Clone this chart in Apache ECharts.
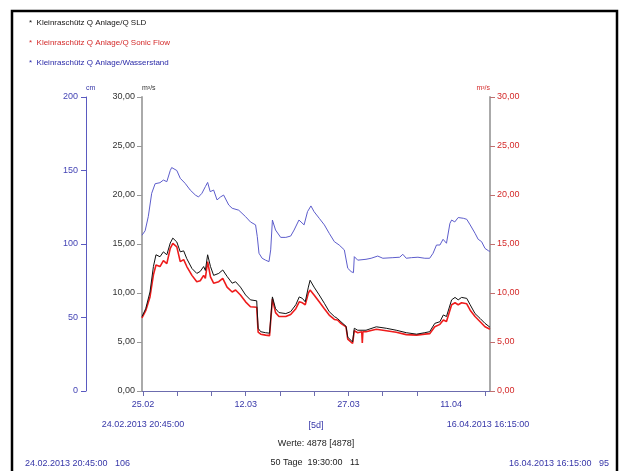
<!DOCTYPE html>
<html>
<head>
<meta charset="utf-8">
<script src="https://cdn.jsdelivr.net/npm/echarts@6/dist/echarts.min.js"></script>
<style>
html,body{margin:0;padding:0;background:#fff;}
#chart{width:621px;height:471px;}
</style>
</head>
<body>
<div id="chart"></div>
<script>
// ---------- data ----------
const seriesNames = ['Kleinraschütz Q Anlage/Q SLD', 'Kleinraschütz Q Anlage/Q Sonic Flow', 'Kleinraschütz Q Anlage/Wasserstand'];
const startUTC = Date.UTC(2013, 1, 24, 20, 45);
const endUTC = Date.UTC(2013, 3, 16, 16, 15);

// hours since start / values (m³/s)
const sldHours = [0,13,28,40,49,63,75,87,99,108,122,134,146,157,175,192,204,216,222,230,240,251,269,283,298,316,328,345,363,380,402,404,407,416,433,447,452,457,468,480,504,521,539,551,562,572,583,589,603,621,639,656,674,685,697,715,721,738,744,756,785,821,856,891,926,962,991,1008,1026,1044,1056,1067,1085,1097,1108,1120,1138,1150,1167,1185,1202,1219.5];
const sldValues = [7.6,8.4,10.1,12.7,13.9,13.7,14.2,13.9,15.1,15.6,15.2,14.2,14.3,13.5,12.5,12.0,12.2,12.7,12.3,13.9,12.7,11.8,12.0,12.35,11.7,11.0,11.15,10.6,9.8,9.3,9.2,9.1,6.4,6.05,5.95,5.9,5.9,9.6,8.4,8.0,7.9,8.1,8.8,9.6,9.45,9.1,10.6,11.3,10.6,9.8,8.95,8.1,7.6,7.4,7.07,6.6,5.5,5.0,6.4,6.2,6.2,6.55,6.4,6.2,5.95,5.8,5.95,6.05,6.9,7.07,7.76,7.6,9.3,9.55,9.3,9.55,9.45,8.8,7.9,7.4,6.9,6.5];

const sonicHours = [0,13,28,40,49,63,75,87,99,108,122,134,146,157,175,192,204,216,222,230,240,251,269,283,298,316,328,345,363,380,402,404,407,416,433,447,452,457,468,480,504,521,539,551,562,572,583,589,603,621,639,656,674,685,697,715,721,738,744,756,770,772,774,785,821,856,891,926,962,991,1008,1026,1044,1056,1067,1085,1097,1108,1120,1138,1150,1167,1185,1202,1219.5];
const sonicValues = [7.45,8.2,9.6,11.85,12.86,12.7,13.3,13.0,14.56,15.07,14.7,13.2,13.4,12.7,11.8,11.15,11.25,11.8,11.5,13.2,11.65,11.0,11.15,11.5,10.6,10.1,10.3,9.8,9.1,8.6,8.55,8.5,6.0,5.8,5.7,5.65,5.7,9.4,8.0,7.6,7.6,7.8,8.4,9.1,9.0,8.8,10.0,10.3,9.8,9.1,8.4,7.75,7.3,7.25,6.9,6.55,5.3,4.85,6.15,5.95,6.05,4.9,6.05,6.05,6.3,6.15,6.0,5.75,5.7,5.8,5.85,6.55,6.8,7.25,7.1,8.8,9.0,8.8,9.0,8.9,8.25,7.6,7.07,6.55,6.3];

// hours since start / values (cm)
const levelHours = [0,11,22,34,46,63,75,87,99,104,122,134,151,169,187,198,210,222,230,239,251,263,275,286,304,316,339,363,380,398,404,410,421,433,445,451,457,468,486,504,521,533,550,568,580,592,603,621,639,656,674,691,709,715,721,733,741,744,756,785,803,826,844,879,903,914,926,944,967,991,1008,1020,1032,1044,1055,1067,1079,1085,1096,1108,1126,1138,1150,1167,1178,1190,1202,1214,1219.5];
const levelValues = [106,109,118.6,134.5,141,141.7,143.5,142.4,150,152,150,144.7,141.3,136.7,133.3,132,134.5,139,141.9,135.6,136.7,130,132,133.3,126.5,124.3,123,118.6,115,113,105,93.7,90.3,89,88,96,116.3,109.5,104.5,104.5,105.4,109.5,116.3,113,122,125.9,122,117.5,113,107.3,101.6,99.3,96,94.8,83.5,81.2,80.5,91.4,89,89.6,90.3,91.8,90.3,90.7,91,93,90.3,90.7,91,90.3,90.3,93.7,99.3,99.3,103.2,100.5,114,116.3,115,118,117.5,116.8,113,107.3,103.2,101.6,97,95.4,95];

// x-axis ticks and labels
const tickDates = ['2013-02-25','2013-03-02','2013-03-07','2013-03-12','2013-03-17','2013-03-22','2013-03-27','2013-04-01','2013-04-06','2013-04-11','2013-04-16'];
const labelDates = ['2013-02-25','2013-03-12','2013-03-27','2013-04-11'];

const footerTexts = {
  start: '24.02.2013 20:45:00', mid: '[5d]', end: '16.04.2013 16:15:00',
  count: 'Werte: 4878 [4878]',
  statStart: '24.02.2013 20:45:00   106', statMid: '50 Tage  19:30:00   11', statEnd: '16.04.2013 16:15:00   95'
};

// ---------- build ----------
const toUTC = s => { const p = s.split('-').map(Number); return Date.UTC(p[0], p[1]-1, p[2]); };
const pairs = (hours, vals) => hours.map((h, i) => [startUTC + h * 3600000, vals[i]]);
const fmt2 = v => v.toFixed(2).replace('.', ',');

const FONT = '"Liberation Sans", Arial, sans-serif';
const BLUE_TXT = '#3636a8';
const RED_TXT = '#d42a2a';

const chart = echarts.init(document.getElementById('chart'), null, {renderer: 'canvas'});
chart.setOption({
  useUTC: true,
  animation: false,
  backgroundColor: '#fff',
  textStyle: {fontFamily: FONT},
  grid: {left: 142, right: 131, top: 97, bottom: 80, containLabel: false},
  legend: {
    orient: 'vertical', left: 24, top: 18, itemGap: 10, padding: 0,
    icon: 'rect', itemWidth: 0, itemHeight: 0,
    selectedMode: false,
    formatter: n => '*  ' + n,
    textStyle: {fontSize: 8, fontFamily: FONT, lineHeight: 10, padding: 0},
    data: [
      {name: seriesNames[0], textStyle: {color: '#111'}},
      {name: seriesNames[1], textStyle: {color: RED_TXT}},
      {name: seriesNames[2], textStyle: {color: '#2a2aa8'}}
    ]
  },
  xAxis: {
    type: 'time', min: startUTC, max: endUTC,
    axisLine: {show: true, lineStyle: {color: '#6c6cae', width: 1}},
    axisTick: {show: true, length: 5, lineStyle: {color: '#6c6cae'}, customValues: tickDates.map(toUTC)},
    axisLabel: {customValues: labelDates.map(toUTC), formatter: '{dd}.{MM}', color: BLUE_TXT, fontSize: 9, margin: 9, fontFamily: FONT},
    splitLine: {show: false}
  },
  yAxis: [
    {
      type: 'value', min: 0, max: 30, interval: 5, position: 'left',
      name: 'm³/s', nameLocation: 'end', nameGap: 5,
      nameTextStyle: {color: '#333', fontSize: 7, align: 'left', fontFamily: FONT},
      axisLine: {show: true, lineStyle: {color: '#aaaaaa', width: 2}},
      axisTick: {show: true, length: 5, lineStyle: {color: '#999'}},
      axisLabel: {color: '#333', fontSize: 9, margin: 7, formatter: fmt2, fontFamily: FONT},
      splitLine: {show: false}
    },
    {
      type: 'value', min: 0, max: 30, interval: 5, position: 'right',
      name: 'm³/s', nameLocation: 'end', nameGap: 5,
      nameTextStyle: {color: RED_TXT, fontSize: 7, align: 'right', fontFamily: FONT},
      axisLine: {show: true, lineStyle: {color: '#aaaaaa', width: 2}},
      axisTick: {show: true, length: 5, lineStyle: {color: '#c07070'}},
      axisLabel: {color: RED_TXT, fontSize: 9, margin: 7, formatter: fmt2, fontFamily: FONT},
      splitLine: {show: false}
    },
    {
      type: 'value', min: 0, max: 200, interval: 50, position: 'left', offset: 56,
      name: 'cm', nameLocation: 'end', nameGap: 5,
      nameTextStyle: {color: BLUE_TXT, fontSize: 7, align: 'left', fontFamily: FONT},
      axisLine: {show: true, lineStyle: {color: '#5a5ac0', width: 1}},
      axisTick: {show: true, length: 5, lineStyle: {color: '#5a5ac0'}},
      axisLabel: {color: '#4545b5', fontSize: 9, margin: 8, fontFamily: FONT},
      splitLine: {show: false}
    }
  ],
  series: [
    {
      name: seriesNames[2], type: 'line', yAxisIndex: 2, showSymbol: false, symbol: 'none',
      lineStyle: {color: '#5d5dcc', width: 1}, itemStyle: {color: '#2a2aa8'},
      data: pairs(levelHours, levelValues), z: 2
    },
    {
      name: seriesNames[1], type: 'line', yAxisIndex: 0, showSymbol: false, symbol: 'none',
      lineStyle: {color: '#ee1c1c', width: 1.6}, itemStyle: {color: RED_TXT},
      data: pairs(sonicHours, sonicValues), z: 3
    },
    {
      name: seriesNames[0], type: 'line', yAxisIndex: 0, showSymbol: false, symbol: 'none',
      lineStyle: {color: '#111', width: 1}, itemStyle: {color: '#111'},
      data: pairs(sldHours, sldValues), z: 4
    }
  ],
  graphic: [
    {type: 'rect', shape: {x: 12, y: 11, width: 605, height: 500}, style: {fill: 'none', stroke: '#000', lineWidth: 2.5}, silent: true},
    {type: 'text', x: 143, y: 425, style: {text: footerTexts.start, fill: BLUE_TXT, font: '9px ' + FONT, align: 'center', verticalAlign: 'middle'}},
    {type: 'text', x: 316, y: 426, style: {text: footerTexts.mid, fill: BLUE_TXT, font: '9px ' + FONT, align: 'center', verticalAlign: 'middle'}},
    {type: 'text', x: 488, y: 425, style: {text: footerTexts.end, fill: BLUE_TXT, font: '9px ' + FONT, align: 'center', verticalAlign: 'middle'}},
    {type: 'text', x: 316, y: 444, style: {text: footerTexts.count, fill: '#222', font: '9px ' + FONT, align: 'center', verticalAlign: 'middle'}},
    {type: 'text', x: 25, y: 464, style: {text: footerTexts.statStart, fill: BLUE_TXT, font: '9px ' + FONT, align: 'left', verticalAlign: 'middle'}},
    {type: 'text', x: 315, y: 463, style: {text: footerTexts.statMid, fill: '#222', font: '9px ' + FONT, align: 'center', verticalAlign: 'middle'}},
    {type: 'text', x: 609, y: 464, style: {text: footerTexts.statEnd, fill: BLUE_TXT, font: '9px ' + FONT, align: 'right', verticalAlign: 'middle'}}
  ]
});
</script>
</body>
</html>
